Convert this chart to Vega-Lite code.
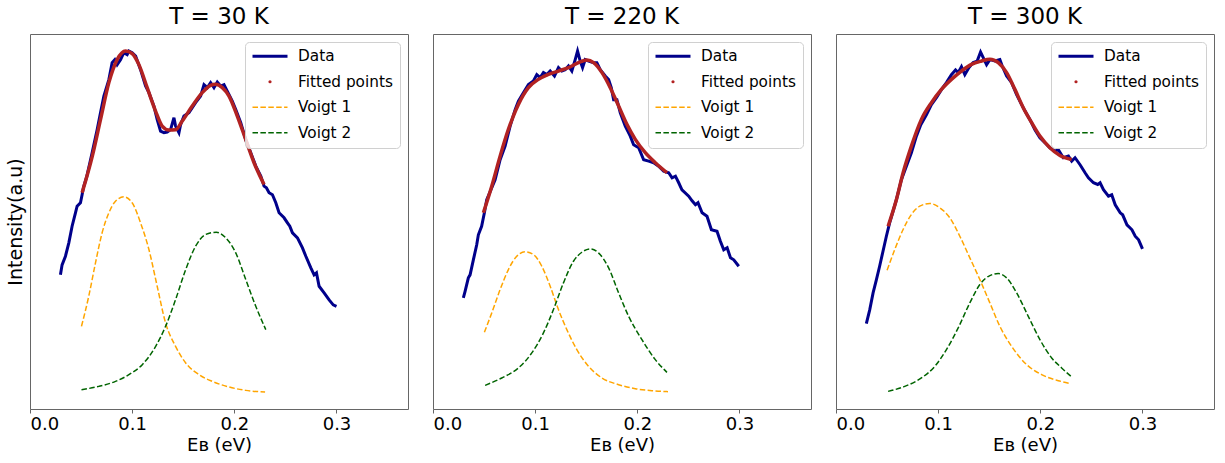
{
  "$schema": "https://vega.github.io/schema/vega-lite/v6.json",
  "description": "Photoemission spectra at three temperatures with a two-Voigt fit.",
  "bounds": "flush",
  "spacing": 25,
  "config": {
    "font": "DejaVu Sans",
    "view": {"stroke": "#666", "strokeWidth": 1},
    "title": {"fontSize": 23, "fontWeight": "normal", "color": "black", "offset": 5},
    "axis": {"grid": false, "labelColor": "black", "titleColor": "black", "titleFontWeight": "normal"},
    "legend": {
      "orient": "top-right", "offset": 8, "padding": 6.5, "cornerRadius": 4, "columns": 1,
      "fillColor": "rgba(255,255,255,0.8)", "strokeColor": "#d0d0d0",
      "labelFontSize": 15.3, "labelColor": "black", "labelOffset": 9.5,
      "symbolSize": 1225, "symbolType": "stroke", "rowPadding": 8.5, "clipHeight": 15.5
    }
  },
  "datasets": {
    "d30": [
      {"s": "Data", "x": 0.0298, "y": 134}, {"s": "Data", "x": 0.0314, "y": 144}, {"s": "Data", "x": 0.0347, "y": 152.6},
      {"s": "Data", "x": 0.038, "y": 166}, {"s": "Data", "x": 0.0412, "y": 182.6}, {"s": "Data", "x": 0.0445, "y": 196},
      {"s": "Data", "x": 0.0461, "y": 202.6}, {"s": "Data", "x": 0.0494, "y": 206}, {"s": "Data", "x": 0.051, "y": 214},
      {"s": "Data", "x": 0.0525, "y": 222}, {"s": "Data", "x": 0.0555, "y": 232}, {"s": "Data", "x": 0.0608, "y": 256},
      {"s": "Data", "x": 0.0657, "y": 279}, {"s": "Data", "x": 0.069, "y": 296}, {"s": "Data", "x": 0.0723, "y": 312.6},
      {"s": "Data", "x": 0.0772, "y": 329}, {"s": "Data", "x": 0.0804, "y": 346}, {"s": "Data", "x": 0.083, "y": 349},
      {"s": "Data", "x": 0.0853, "y": 344}, {"s": "Data", "x": 0.0886, "y": 349}, {"s": "Data", "x": 0.0919, "y": 356},
      {"s": "Data", "x": 0.0951, "y": 354}, {"s": "Data", "x": 0.0968, "y": 357.6}, {"s": "Data", "x": 0.1, "y": 356},
      {"s": "Data", "x": 0.1034, "y": 352.6}, {"s": "Data", "x": 0.1082, "y": 339}, {"s": "Data", "x": 0.1131, "y": 322.6},
      {"s": "Data", "x": 0.1164, "y": 316}, {"s": "Data", "x": 0.1213, "y": 302.6}, {"s": "Data", "x": 0.1245, "y": 289},
      {"s": "Data", "x": 0.1278, "y": 277.6}, {"s": "Data", "x": 0.1311, "y": 276}, {"s": "Data", "x": 0.1343, "y": 276.6},
      {"s": "Data", "x": 0.1376, "y": 279}, {"s": "Data", "x": 0.1409, "y": 291}, {"s": "Data", "x": 0.1425, "y": 282.6},
      {"s": "Data", "x": 0.1458, "y": 276}, {"s": "Data", "x": 0.1474, "y": 284}, {"s": "Data", "x": 0.1507, "y": 292.6},
      {"s": "Data", "x": 0.1556, "y": 296}, {"s": "Data", "x": 0.1621, "y": 306}, {"s": "Data", "x": 0.167, "y": 312.6},
      {"s": "Data", "x": 0.1703, "y": 324}, {"s": "Data", "x": 0.1736, "y": 321}, {"s": "Data", "x": 0.1768, "y": 326},
      {"s": "Data", "x": 0.1801, "y": 321}, {"s": "Data", "x": 0.1833, "y": 326.6}, {"s": "Data", "x": 0.1866, "y": 322.6},
      {"s": "Data", "x": 0.1899, "y": 324}, {"s": "Data", "x": 0.1931, "y": 317.6}, {"s": "Data", "x": 0.198, "y": 307.6},
      {"s": "Data", "x": 0.2014, "y": 299}, {"s": "Data", "x": 0.2063, "y": 286}, {"s": "Data", "x": 0.2112, "y": 269},
      {"s": "Data", "x": 0.2161, "y": 256}, {"s": "Data", "x": 0.221, "y": 242.6}, {"s": "Data", "x": 0.2259, "y": 232.6},
      {"s": "Data", "x": 0.2291, "y": 222.6}, {"s": "Data", "x": 0.2314, "y": 221}, {"s": "Data", "x": 0.234, "y": 216},
      {"s": "Data", "x": 0.2373, "y": 214}, {"s": "Data", "x": 0.2406, "y": 206}, {"s": "Data", "x": 0.2438, "y": 196},
      {"s": "Data", "x": 0.2487, "y": 191}, {"s": "Data", "x": 0.252, "y": 186}, {"s": "Data", "x": 0.2543, "y": 182.6},
      {"s": "Data", "x": 0.2569, "y": 176}, {"s": "Data", "x": 0.2618, "y": 171}, {"s": "Data", "x": 0.2667, "y": 161},
      {"s": "Data", "x": 0.27, "y": 152.6}, {"s": "Data", "x": 0.2749, "y": 141}, {"s": "Data", "x": 0.2781, "y": 134},
      {"s": "Data", "x": 0.2804, "y": 136}, {"s": "Data", "x": 0.283, "y": 122.6}, {"s": "Data", "x": 0.2879, "y": 116},
      {"s": "Data", "x": 0.2928, "y": 109}, {"s": "Data", "x": 0.2968, "y": 104}, {"s": "Data", "x": 0.3, "y": 102.6},
      {"s": "Fitted points", "x": 0.051, "y": 216}, {"s": "Fitted points", "x": 0.061, "y": 252.6},
      {"s": "Fitted points", "x": 0.069, "y": 289}, {"s": "Fitted points", "x": 0.0772, "y": 326},
      {"s": "Fitted points", "x": 0.0853, "y": 349}, {"s": "Fitted points", "x": 0.0935, "y": 357.6},
      {"s": "Fitted points", "x": 0.1, "y": 355}, {"s": "Fitted points", "x": 0.1066, "y": 344},
      {"s": "Fitted points", "x": 0.1147, "y": 321}, {"s": "Fitted points", "x": 0.1229, "y": 297.6},
      {"s": "Fitted points", "x": 0.1294, "y": 282.6}, {"s": "Fitted points", "x": 0.136, "y": 278.6},
      {"s": "Fitted points", "x": 0.1425, "y": 279}, {"s": "Fitted points", "x": 0.149, "y": 287.6},
      {"s": "Fitted points", "x": 0.1588, "y": 302.6}, {"s": "Fitted points", "x": 0.1686, "y": 316},
      {"s": "Fitted points", "x": 0.1768, "y": 323.3}, {"s": "Fitted points", "x": 0.1817, "y": 324.3},
      {"s": "Fitted points", "x": 0.1882, "y": 321}, {"s": "Fitted points", "x": 0.1948, "y": 312.6},
      {"s": "Fitted points", "x": 0.2029, "y": 292.6}, {"s": "Fitted points", "x": 0.2111, "y": 269.3},
      {"s": "Fitted points", "x": 0.2193, "y": 246}, {"s": "Fitted points", "x": 0.2291, "y": 224.3},
      {"s": "Voigt 1", "x": 0.0504, "y": 82.6}, {"s": "Voigt 1", "x": 0.0575, "y": 112.6}, {"s": "Voigt 1", "x": 0.0641, "y": 146},
      {"s": "Voigt 1", "x": 0.0706, "y": 176}, {"s": "Voigt 1", "x": 0.0772, "y": 196}, {"s": "Voigt 1", "x": 0.0837, "y": 207.6},
      {"s": "Voigt 1", "x": 0.0919, "y": 212}, {"s": "Voigt 1", "x": 0.1, "y": 206}, {"s": "Voigt 1", "x": 0.1082, "y": 186},
      {"s": "Voigt 1", "x": 0.1164, "y": 159.3}, {"s": "Voigt 1", "x": 0.1245, "y": 122.6}, {"s": "Voigt 1", "x": 0.1327, "y": 86},
      {"s": "Voigt 1", "x": 0.1425, "y": 62.6}, {"s": "Voigt 1", "x": 0.1524, "y": 46}, {"s": "Voigt 1", "x": 0.1654, "y": 34.3},
      {"s": "Voigt 1", "x": 0.1784, "y": 27.6}, {"s": "Voigt 1", "x": 0.1948, "y": 22}, {"s": "Voigt 1", "x": 0.2112, "y": 18.6},
      {"s": "Voigt 1", "x": 0.2301, "y": 17},
      {"s": "Voigt 2", "x": 0.0504, "y": 19.3}, {"s": "Voigt 2", "x": 0.0674, "y": 22.6}, {"s": "Voigt 2", "x": 0.0837, "y": 27.6},
      {"s": "Voigt 2", "x": 0.0968, "y": 34.3}, {"s": "Voigt 2", "x": 0.1099, "y": 44.3}, {"s": "Voigt 2", "x": 0.123, "y": 62.6},
      {"s": "Voigt 2", "x": 0.1327, "y": 82.6}, {"s": "Voigt 2", "x": 0.1425, "y": 109.3}, {"s": "Voigt 2", "x": 0.1524, "y": 139.3},
      {"s": "Voigt 2", "x": 0.1621, "y": 162.6}, {"s": "Voigt 2", "x": 0.1719, "y": 174.3}, {"s": "Voigt 2", "x": 0.1824, "y": 176.6},
      {"s": "Voigt 2", "x": 0.1916, "y": 171}, {"s": "Voigt 2", "x": 0.2014, "y": 156}, {"s": "Voigt 2", "x": 0.2112, "y": 129.3},
      {"s": "Voigt 2", "x": 0.221, "y": 102.6}, {"s": "Voigt 2", "x": 0.2308, "y": 79.3}
    ],
    "d220": [
      {"s": "Data", "x": 0.0297, "y": 111}, {"s": "Data", "x": 0.0314, "y": 117.6}, {"s": "Data", "x": 0.0346, "y": 131},
      {"s": "Data", "x": 0.0363, "y": 134}, {"s": "Data", "x": 0.0395, "y": 149}, {"s": "Data", "x": 0.0428, "y": 164},
      {"s": "Data", "x": 0.0444, "y": 174}, {"s": "Data", "x": 0.0476, "y": 182.6}, {"s": "Data", "x": 0.0503, "y": 196},
      {"s": "Data", "x": 0.0526, "y": 209}, {"s": "Data", "x": 0.0559, "y": 217}, {"s": "Data", "x": 0.0608, "y": 229},
      {"s": "Data", "x": 0.0657, "y": 249}, {"s": "Data", "x": 0.0706, "y": 262.6}, {"s": "Data", "x": 0.0755, "y": 282.6},
      {"s": "Data", "x": 0.0804, "y": 299}, {"s": "Data", "x": 0.0836, "y": 307.6}, {"s": "Data", "x": 0.0885, "y": 316},
      {"s": "Data", "x": 0.0934, "y": 324}, {"s": "Data", "x": 0.0983, "y": 327.6}, {"s": "Data", "x": 0.1016, "y": 334},
      {"s": "Data", "x": 0.1049, "y": 331}, {"s": "Data", "x": 0.1081, "y": 336}, {"s": "Data", "x": 0.1114, "y": 334},
      {"s": "Data", "x": 0.1147, "y": 337.6}, {"s": "Data", "x": 0.1189, "y": 332.6}, {"s": "Data", "x": 0.1228, "y": 341},
      {"s": "Data", "x": 0.1261, "y": 337.6}, {"s": "Data", "x": 0.1294, "y": 339}, {"s": "Data", "x": 0.1326, "y": 342.6},
      {"s": "Data", "x": 0.1359, "y": 337.6}, {"s": "Data", "x": 0.1392, "y": 349}, {"s": "Data", "x": 0.1415, "y": 357.6},
      {"s": "Data", "x": 0.1441, "y": 347.6}, {"s": "Data", "x": 0.1464, "y": 341}, {"s": "Data", "x": 0.149, "y": 349},
      {"s": "Data", "x": 0.1523, "y": 347.6}, {"s": "Data", "x": 0.1572, "y": 346}, {"s": "Data", "x": 0.1604, "y": 346},
      {"s": "Data", "x": 0.1637, "y": 339}, {"s": "Data", "x": 0.1686, "y": 332.6}, {"s": "Data", "x": 0.1719, "y": 329},
      {"s": "Data", "x": 0.1745, "y": 321}, {"s": "Data", "x": 0.1768, "y": 309}, {"s": "Data", "x": 0.18, "y": 309},
      {"s": "Data", "x": 0.1833, "y": 296}, {"s": "Data", "x": 0.1882, "y": 282.6}, {"s": "Data", "x": 0.1931, "y": 272.6},
      {"s": "Data", "x": 0.1964, "y": 264}, {"s": "Data", "x": 0.2013, "y": 261}, {"s": "Data", "x": 0.2062, "y": 249},
      {"s": "Data", "x": 0.2111, "y": 247.6}, {"s": "Data", "x": 0.216, "y": 246}, {"s": "Data", "x": 0.2209, "y": 242.6},
      {"s": "Data", "x": 0.2258, "y": 237.6}, {"s": "Data", "x": 0.2307, "y": 236}, {"s": "Data", "x": 0.234, "y": 231},
      {"s": "Data", "x": 0.2373, "y": 232.6}, {"s": "Data", "x": 0.2405, "y": 226}, {"s": "Data", "x": 0.2437, "y": 219},
      {"s": "Data", "x": 0.2503, "y": 212.6}, {"s": "Data", "x": 0.2536, "y": 208}, {"s": "Data", "x": 0.2569, "y": 204},
      {"s": "Data", "x": 0.2594, "y": 206}, {"s": "Data", "x": 0.2634, "y": 196}, {"s": "Data", "x": 0.2682, "y": 192.6},
      {"s": "Data", "x": 0.2725, "y": 179}, {"s": "Data", "x": 0.278, "y": 177.6}, {"s": "Data", "x": 0.2813, "y": 167.6},
      {"s": "Data", "x": 0.2846, "y": 159}, {"s": "Data", "x": 0.2879, "y": 161}, {"s": "Data", "x": 0.2912, "y": 151},
      {"s": "Data", "x": 0.2944, "y": 149}, {"s": "Data", "x": 0.2993, "y": 142.6},
      {"s": "Fitted points", "x": 0.0493, "y": 196}, {"s": "Fitted points", "x": 0.0575, "y": 222.6},
      {"s": "Fitted points", "x": 0.0657, "y": 252.6}, {"s": "Fitted points", "x": 0.0738, "y": 279.3},
      {"s": "Fitted points", "x": 0.0836, "y": 304.3}, {"s": "Fitted points", "x": 0.0934, "y": 321},
      {"s": "Fitted points", "x": 0.1032, "y": 329.3}, {"s": "Fitted points", "x": 0.113, "y": 334.3},
      {"s": "Fitted points", "x": 0.1228, "y": 337.6}, {"s": "Fitted points", "x": 0.1326, "y": 341},
      {"s": "Fitted points", "x": 0.1424, "y": 346}, {"s": "Fitted points", "x": 0.1506, "y": 348.6},
      {"s": "Fitted points", "x": 0.1572, "y": 346}, {"s": "Fitted points", "x": 0.1654, "y": 336},
      {"s": "Fitted points", "x": 0.1735, "y": 321}, {"s": "Fitted points", "x": 0.1817, "y": 302.6},
      {"s": "Fitted points", "x": 0.1898, "y": 284.3}, {"s": "Fitted points", "x": 0.198, "y": 269.3},
      {"s": "Fitted points", "x": 0.2078, "y": 256}, {"s": "Fitted points", "x": 0.2176, "y": 246},
      {"s": "Fitted points", "x": 0.229, "y": 236},
      {"s": "Voigt 1", "x": 0.0503, "y": 76.6}, {"s": "Voigt 1", "x": 0.0575, "y": 96}, {"s": "Voigt 1", "x": 0.0657, "y": 119.3},
      {"s": "Voigt 1", "x": 0.0738, "y": 139.3}, {"s": "Voigt 1", "x": 0.082, "y": 152.6}, {"s": "Voigt 1", "x": 0.0902, "y": 157},
      {"s": "Voigt 1", "x": 0.0983, "y": 154.3}, {"s": "Voigt 1", "x": 0.1065, "y": 142.6}, {"s": "Voigt 1", "x": 0.1147, "y": 122.6},
      {"s": "Voigt 1", "x": 0.1228, "y": 99.3}, {"s": "Voigt 1", "x": 0.131, "y": 79.3}, {"s": "Voigt 1", "x": 0.1408, "y": 59.3},
      {"s": "Voigt 1", "x": 0.1523, "y": 42.6}, {"s": "Voigt 1", "x": 0.1654, "y": 31}, {"s": "Voigt 1", "x": 0.1817, "y": 24.3},
      {"s": "Voigt 1", "x": 0.198, "y": 20.3}, {"s": "Voigt 1", "x": 0.2143, "y": 18.3}, {"s": "Voigt 1", "x": 0.23, "y": 17.3},
      {"s": "Voigt 2", "x": 0.051, "y": 23.6}, {"s": "Voigt 2", "x": 0.0673, "y": 31}, {"s": "Voigt 2", "x": 0.0836, "y": 41},
      {"s": "Voigt 2", "x": 0.0967, "y": 56}, {"s": "Voigt 2", "x": 0.1081, "y": 76}, {"s": "Voigt 2", "x": 0.1179, "y": 99.3},
      {"s": "Voigt 2", "x": 0.1277, "y": 126}, {"s": "Voigt 2", "x": 0.1375, "y": 147.6}, {"s": "Voigt 2", "x": 0.1457, "y": 156.6},
      {"s": "Voigt 2", "x": 0.1539, "y": 160}, {"s": "Voigt 2", "x": 0.162, "y": 156}, {"s": "Voigt 2", "x": 0.1719, "y": 141},
      {"s": "Voigt 2", "x": 0.1817, "y": 116}, {"s": "Voigt 2", "x": 0.1915, "y": 92.6}, {"s": "Voigt 2", "x": 0.2045, "y": 69.3},
      {"s": "Voigt 2", "x": 0.2176, "y": 49.3}, {"s": "Voigt 2", "x": 0.229, "y": 36.6}
    ],
    "d300": [
      {"s": "Data", "x": 0.0297, "y": 85.3}, {"s": "Data", "x": 0.033, "y": 99}, {"s": "Data", "x": 0.0363, "y": 116},
      {"s": "Data", "x": 0.0395, "y": 129}, {"s": "Data", "x": 0.0427, "y": 142.6}, {"s": "Data", "x": 0.046, "y": 157.6},
      {"s": "Data", "x": 0.0493, "y": 172.6}, {"s": "Data", "x": 0.0525, "y": 186}, {"s": "Data", "x": 0.0591, "y": 209},
      {"s": "Data", "x": 0.064, "y": 229}, {"s": "Data", "x": 0.0689, "y": 242.6}, {"s": "Data", "x": 0.0738, "y": 256},
      {"s": "Data", "x": 0.0787, "y": 272.6}, {"s": "Data", "x": 0.083, "y": 284}, {"s": "Data", "x": 0.0885, "y": 294},
      {"s": "Data", "x": 0.0934, "y": 304}, {"s": "Data", "x": 0.0983, "y": 311}, {"s": "Data", "x": 0.1032, "y": 319},
      {"s": "Data", "x": 0.1081, "y": 326}, {"s": "Data", "x": 0.113, "y": 334}, {"s": "Data", "x": 0.117, "y": 338.6},
      {"s": "Data", "x": 0.1196, "y": 336}, {"s": "Data", "x": 0.1228, "y": 342}, {"s": "Data", "x": 0.1261, "y": 334},
      {"s": "Data", "x": 0.13, "y": 341}, {"s": "Data", "x": 0.1343, "y": 346}, {"s": "Data", "x": 0.1382, "y": 347.6},
      {"s": "Data", "x": 0.1415, "y": 356.6}, {"s": "Data", "x": 0.1441, "y": 351}, {"s": "Data", "x": 0.1474, "y": 344},
      {"s": "Data", "x": 0.1506, "y": 349}, {"s": "Data", "x": 0.1555, "y": 347.6}, {"s": "Data", "x": 0.1604, "y": 349},
      {"s": "Data", "x": 0.1627, "y": 342.6}, {"s": "Data", "x": 0.167, "y": 332.6}, {"s": "Data", "x": 0.1719, "y": 326},
      {"s": "Data", "x": 0.1768, "y": 314}, {"s": "Data", "x": 0.1817, "y": 304}, {"s": "Data", "x": 0.185, "y": 297.6},
      {"s": "Data", "x": 0.1899, "y": 289}, {"s": "Data", "x": 0.1947, "y": 279}, {"s": "Data", "x": 0.1996, "y": 271},
      {"s": "Data", "x": 0.2045, "y": 266}, {"s": "Data", "x": 0.2094, "y": 261}, {"s": "Data", "x": 0.2143, "y": 257.6},
      {"s": "Data", "x": 0.2176, "y": 259}, {"s": "Data", "x": 0.2225, "y": 251}, {"s": "Data", "x": 0.2275, "y": 252.6},
      {"s": "Data", "x": 0.2307, "y": 247.6}, {"s": "Data", "x": 0.234, "y": 251}, {"s": "Data", "x": 0.2389, "y": 244},
      {"s": "Data", "x": 0.2438, "y": 236}, {"s": "Data", "x": 0.2471, "y": 231}, {"s": "Data", "x": 0.252, "y": 226},
      {"s": "Data", "x": 0.2562, "y": 224.3}, {"s": "Data", "x": 0.2585, "y": 226}, {"s": "Data", "x": 0.2618, "y": 219},
      {"s": "Data", "x": 0.2667, "y": 212.6}, {"s": "Data", "x": 0.2699, "y": 214}, {"s": "Data", "x": 0.2733, "y": 204},
      {"s": "Data", "x": 0.2782, "y": 196}, {"s": "Data", "x": 0.2806, "y": 194}, {"s": "Data", "x": 0.2848, "y": 184},
      {"s": "Data", "x": 0.2897, "y": 179}, {"s": "Data", "x": 0.2929, "y": 172.6}, {"s": "Data", "x": 0.2962, "y": 169},
      {"s": "Data", "x": 0.3, "y": 160},
      {"s": "Fitted points", "x": 0.051, "y": 182.6}, {"s": "Fitted points", "x": 0.0591, "y": 209},
      {"s": "Fitted points", "x": 0.0657, "y": 236}, {"s": "Fitted points", "x": 0.0738, "y": 262.6},
      {"s": "Fitted points", "x": 0.0836, "y": 289.3}, {"s": "Fitted points", "x": 0.0934, "y": 306},
      {"s": "Fitted points", "x": 0.1032, "y": 319.3}, {"s": "Fitted points", "x": 0.113, "y": 329.3},
      {"s": "Fitted points", "x": 0.1228, "y": 337.6}, {"s": "Fitted points", "x": 0.1326, "y": 344.3},
      {"s": "Fitted points", "x": 0.1425, "y": 347.6}, {"s": "Fitted points", "x": 0.1506, "y": 349.3},
      {"s": "Fitted points", "x": 0.1588, "y": 346}, {"s": "Fitted points", "x": 0.167, "y": 336},
      {"s": "Fitted points", "x": 0.1751, "y": 319.3}, {"s": "Fitted points", "x": 0.1833, "y": 301},
      {"s": "Fitted points", "x": 0.1915, "y": 286}, {"s": "Fitted points", "x": 0.1996, "y": 272.6},
      {"s": "Fitted points", "x": 0.2094, "y": 261}, {"s": "Fitted points", "x": 0.2192, "y": 253.3},
      {"s": "Fitted points", "x": 0.2307, "y": 249.3},
      {"s": "Voigt 1", "x": 0.05, "y": 138.6}, {"s": "Voigt 1", "x": 0.0575, "y": 159.3}, {"s": "Voigt 1", "x": 0.0657, "y": 179.3},
      {"s": "Voigt 1", "x": 0.0738, "y": 194.3}, {"s": "Voigt 1", "x": 0.082, "y": 202.6}, {"s": "Voigt 1", "x": 0.0918, "y": 205.3},
      {"s": "Voigt 1", "x": 0.1016, "y": 201}, {"s": "Voigt 1", "x": 0.1114, "y": 191}, {"s": "Voigt 1", "x": 0.1212, "y": 172.6},
      {"s": "Voigt 1", "x": 0.131, "y": 151}, {"s": "Voigt 1", "x": 0.1408, "y": 129.3}, {"s": "Voigt 1", "x": 0.1506, "y": 106},
      {"s": "Voigt 1", "x": 0.1604, "y": 82.6}, {"s": "Voigt 1", "x": 0.1719, "y": 62.6}, {"s": "Voigt 1", "x": 0.1849, "y": 46},
      {"s": "Voigt 1", "x": 0.2013, "y": 34.3}, {"s": "Voigt 1", "x": 0.2176, "y": 28.3}, {"s": "Voigt 1", "x": 0.23, "y": 25.3},
      {"s": "Voigt 2", "x": 0.051, "y": 17.6}, {"s": "Voigt 2", "x": 0.0673, "y": 22.6}, {"s": "Voigt 2", "x": 0.0836, "y": 31},
      {"s": "Voigt 2", "x": 0.0967, "y": 42.6}, {"s": "Voigt 2", "x": 0.1081, "y": 59.3}, {"s": "Voigt 2", "x": 0.1196, "y": 81},
      {"s": "Voigt 2", "x": 0.131, "y": 106}, {"s": "Voigt 2", "x": 0.1408, "y": 124.3}, {"s": "Voigt 2", "x": 0.1506, "y": 133.3},
      {"s": "Voigt 2", "x": 0.1588, "y": 135.3}, {"s": "Voigt 2", "x": 0.167, "y": 131}, {"s": "Voigt 2", "x": 0.1768, "y": 116},
      {"s": "Voigt 2", "x": 0.1882, "y": 92.6}, {"s": "Voigt 2", "x": 0.1996, "y": 69.3}, {"s": "Voigt 2", "x": 0.2111, "y": 51},
      {"s": "Voigt 2", "x": 0.2209, "y": 41}, {"s": "Voigt 2", "x": 0.23, "y": 32.6}
    ]
  },
  "resolve": {"scale": {"color": "independent"}, "legend": {"color": "independent"}},
  "hconcat": [
    {
      "title": "T = 30 K",
      "width": 378, "height": 375,
      "data": {"name": "d30"},
      "encoding": {
        "x": {"field": "x", "type": "quantitative", "scale": {"domain": [0, 0.37], "nice": false},
              "axis": {"values": [0, 0.1, 0.2, 0.3], "format": ".1f", "title": "Eʙ (eV)", "domain": false,
                       "tickColor": "#666", "tickSize": 4, "labelFontSize": 18, "titleFontSize": 18, "labelPadding": 2, "titlePadding": 3}},
        "y": {"field": "y", "type": "quantitative", "scale": {"domain": [0, 374.6], "nice": false},
              "axis": {"title": "Intensity(a.u)", "ticks": false, "labels": false, "domain": false, "titleFontSize": 19, "titlePadding": 5}},
        "color": {"field": "s", "type": "nominal",
                  "scale": {"domain": ["Data", "Fitted points", "Voigt 1", "Voigt 2"], "range": ["#00008b", "#b22222", "#ffa500", "#006400"]},
                  "legend": {"title": null, "columns": 1, "labelOffset": 9.5, "clipHeight": 15.5, "encode": {"symbols": {"update": {
                    "shape": {"signal": "(datum.value === 'Fitted points' ? 'circle' : 'stroke')"},
                    "size": {"signal": "(datum.value === 'Fitted points' ? 10 : 1225)"},
                    "strokeWidth": {"signal": "(datum.value === 'Data' ? 3 : (datum.value === 'Fitted points' ? 0 : 1.5))"},
                    "strokeDash": {"signal": "(datum.value === 'Voigt 1' || datum.value === 'Voigt 2' ? [5.5, 2.4] : [1, 0])"},
                    "fill": {"signal": "(datum.value === 'Fitted points' ? '#b22222' : 'transparent')"}
                  }}}}}
      },
      "layer": [
        {"transform": [{"filter": "datum.s === 'Data'"}], "mark": {"type": "line", "strokeWidth": 3}},
        {"transform": [{"filter": "datum.s === 'Fitted points'"}], "mark": {"type": "line", "strokeWidth": 3.5, "interpolate": "monotone"}},
        {"transform": [{"filter": "datum.s === 'Voigt 1' || datum.s === 'Voigt 2'"}], "mark": {"type": "line", "strokeWidth": 1.5, "strokeDash": [5.5, 2.4], "interpolate": "monotone"}}
      ]
    },
    {
      "title": "T = 220 K",
      "width": 378, "height": 375,
      "data": {"name": "d220"},
      "encoding": {
        "x": {"field": "x", "type": "quantitative", "scale": {"domain": [0, 0.37], "nice": false},
              "axis": {"values": [0, 0.1, 0.2, 0.3], "format": ".1f", "title": "Eʙ (eV)", "domain": false,
                       "tickColor": "#666", "tickSize": 4, "labelFontSize": 18, "titleFontSize": 18, "labelPadding": 2, "titlePadding": 3}},
        "y": {"field": "y", "type": "quantitative", "scale": {"domain": [0, 374.6], "nice": false}, "axis": null},
        "color": {"field": "s", "type": "nominal",
                  "scale": {"domain": ["Data", "Fitted points", "Voigt 1", "Voigt 2"], "range": ["#00008b", "#b22222", "#ffa500", "#006400"]},
                  "legend": {"title": null, "columns": 1, "labelOffset": 9.5, "clipHeight": 15.5, "encode": {"symbols": {"update": {
                    "shape": {"signal": "(datum.value === 'Fitted points' ? 'circle' : 'stroke')"},
                    "size": {"signal": "(datum.value === 'Fitted points' ? 10 : 1225)"},
                    "strokeWidth": {"signal": "(datum.value === 'Data' ? 3 : (datum.value === 'Fitted points' ? 0 : 1.5))"},
                    "strokeDash": {"signal": "(datum.value === 'Voigt 1' || datum.value === 'Voigt 2' ? [5.5, 2.4] : [1, 0])"},
                    "fill": {"signal": "(datum.value === 'Fitted points' ? '#b22222' : 'transparent')"}
                  }}}}}
      },
      "layer": [
        {"transform": [{"filter": "datum.s === 'Data'"}], "mark": {"type": "line", "strokeWidth": 3}},
        {"transform": [{"filter": "datum.s === 'Fitted points'"}], "mark": {"type": "line", "strokeWidth": 3.5, "interpolate": "monotone"}},
        {"transform": [{"filter": "datum.s === 'Voigt 1' || datum.s === 'Voigt 2'"}], "mark": {"type": "line", "strokeWidth": 1.5, "strokeDash": [5.5, 2.4], "interpolate": "monotone"}}
      ]
    },
    {
      "title": "T = 300 K",
      "width": 378, "height": 375,
      "data": {"name": "d300"},
      "encoding": {
        "x": {"field": "x", "type": "quantitative", "scale": {"domain": [0, 0.37], "nice": false},
              "axis": {"values": [0, 0.1, 0.2, 0.3], "format": ".1f", "title": "Eʙ (eV)", "domain": false,
                       "tickColor": "#666", "tickSize": 4, "labelFontSize": 18, "titleFontSize": 18, "labelPadding": 2, "titlePadding": 3}},
        "y": {"field": "y", "type": "quantitative", "scale": {"domain": [0, 374.6], "nice": false}, "axis": null},
        "color": {"field": "s", "type": "nominal",
                  "scale": {"domain": ["Data", "Fitted points", "Voigt 1", "Voigt 2"], "range": ["#00008b", "#b22222", "#ffa500", "#006400"]},
                  "legend": {"title": null, "columns": 1, "labelOffset": 9.5, "clipHeight": 15.5, "encode": {"symbols": {"update": {
                    "shape": {"signal": "(datum.value === 'Fitted points' ? 'circle' : 'stroke')"},
                    "size": {"signal": "(datum.value === 'Fitted points' ? 10 : 1225)"},
                    "strokeWidth": {"signal": "(datum.value === 'Data' ? 3 : (datum.value === 'Fitted points' ? 0 : 1.5))"},
                    "strokeDash": {"signal": "(datum.value === 'Voigt 1' || datum.value === 'Voigt 2' ? [5.5, 2.4] : [1, 0])"},
                    "fill": {"signal": "(datum.value === 'Fitted points' ? '#b22222' : 'transparent')"}
                  }}}}}
      },
      "layer": [
        {"transform": [{"filter": "datum.s === 'Data'"}], "mark": {"type": "line", "strokeWidth": 3}},
        {"transform": [{"filter": "datum.s === 'Fitted points'"}], "mark": {"type": "line", "strokeWidth": 3.5, "interpolate": "monotone"}},
        {"transform": [{"filter": "datum.s === 'Voigt 1' || datum.s === 'Voigt 2'"}], "mark": {"type": "line", "strokeWidth": 1.5, "strokeDash": [5.5, 2.4], "interpolate": "monotone"}}
      ]
    }
  ]
}
